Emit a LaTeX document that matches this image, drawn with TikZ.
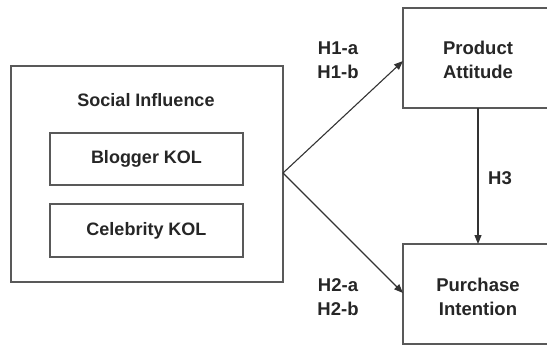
\documentclass[tikz,border=0pt]{standalone}
\usepackage{fontspec}
\setmainfont{Liberation Sans}
\usetikzlibrary{arrows.meta}
\begin{document}
\begin{tikzpicture}[x=1pt,y=-1pt,
  boxline/.style={draw=black!65,line width=1.3pt},
  lbl/.style={font=\fontsize{18.5}{24}\selectfont\bfseries,text=black!85,align=center},
  lbll/.style={font=\fontsize{18}{24}\selectfont\bfseries,text=black!85,align=center},
  arr/.style={draw=black!80,line width=1.1pt,-{Triangle[length=9pt,width=7pt]}}]
\useasboundingbox (0,0) rectangle (547,346);
\clip (0,0) rectangle (547,346);
\fill[white] (0,0) rectangle (547,346);
% left
\draw[boxline] (11,66) rectangle (283,282);
\node[lbll] (si) at (146,100) {Social Influence};
\draw[boxline] (50,133) rectangle (243,185);
\node[lbll] (blog) at (146.5,159) {Blogger KOL};
\draw[boxline] (50,204) rectangle (243,257);
\node[lbll] (celeb) at (146.5,231) {Celebrity KOL};
\coordinate (apex) at (283,173);
% right boxes (right edge cut off)
\draw[boxline] (560,8) -- (403,8) -- (403,108) -- (560,108);
\draw[boxline] (560,244) -- (403,244) -- (403,344) -- (560,344);
\node[lbl,inner sep=0pt] (pa) at (478,60) {Product\\Attitude};
\node[lbl,inner sep=0pt] (pi) at (478,297) {Purchase\\Intention};
\coordinate (paL) at (403,61);
\coordinate (piL) at (403,293);
\coordinate (paB) at (478,108);
\coordinate (piT) at (478,244);
\draw[arr] (apex) -- (paL);
\draw[arr] (apex) -- (piL);
\draw[arr] (paB) -- (piT);
\node[lbl,inner sep=0pt] (h1) at (338,60) {H1-a\\H1-b};
\node[lbl,inner sep=0pt] (h2) at (338,297) {H2-a\\H2-b};
\node[lbl] (h3) at (500,178) {H3};
\end{tikzpicture}
\end{document}
